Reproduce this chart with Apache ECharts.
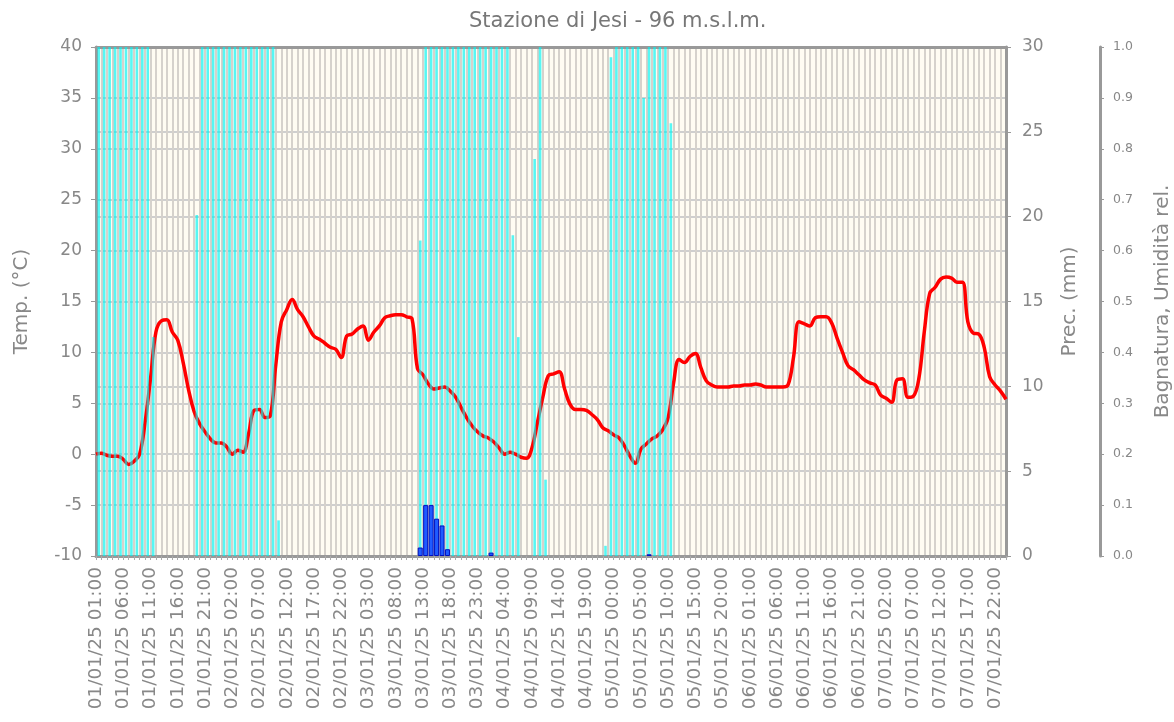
<!DOCTYPE html>
<html>
<head>
<meta charset="utf-8">
<title>Stazione di Jesi</title>
<script src="https://cdn.jsdelivr.net/npm/echarts@6/dist/echarts.min.js"></script>
<style>
  html, body { margin: 0; padding: 0; background: #fff; }
  #chart { width: 1174px; height: 722px; }
</style>
</head>
<body>
<div id="chart"></div>
<script>
// ore dal 01/01/25 01:00 al 08/01/25 00:00
const pad = n => (n < 10 ? '0' : '') + n
const hours = []
for (let h = 0; h < 168; h++) {
  const t = 1 + h
  hours.push(pad(1 + Math.floor(t / 24)) + '/01/25 ' + pad(t % 24) + ':00')
}

// temperatura oraria (°C)
const temp = [
  0.0, 0.1, -0.1, -0.2, -0.2, -0.5, -1.0, -0.7, 0.0, 3.1,
  7.4, 12.0, 13.1, 13.2, 12.0, 11.2, 9.0, 6.3, 4.2, 3.0,
  2.2, 1.5, 1.1, 1.1, 0.7, 0.0, 0.4, 0.2, 2.0, 4.3,
  4.4, 3.6, 3.8, 8.8, 13.0, 14.2, 15.2, 14.2, 13.5, 12.5,
  11.6, 11.3, 10.9, 10.5, 10.3, 9.5, 11.6, 11.8, 12.3, 12.6,
  11.2, 12.0, 12.6, 13.4, 13.6, 13.7, 13.7, 13.5, 13.3, 8.4,
  7.8, 6.9, 6.4, 6.5, 6.6, 6.2, 5.6, 4.6, 3.6, 2.8,
  2.2, 1.8, 1.6, 1.2, 0.6, 0.0, 0.2, 0.0, -0.3, -0.4,
  0.6, 3.1, 5.6, 7.7, 7.9, 8.1, 6.4, 4.9, 4.4, 4.4,
  4.3, 3.9, 3.4, 2.6, 2.3, 1.9, 1.6, 0.8, -0.2, -0.9,
  0.5, 1.0, 1.5, 1.8, 2.4, 3.6, 7.0, 9.3, 9.0, 9.6,
  9.9, 8.5, 7.2, 6.8, 6.6, 6.6, 6.6, 6.7, 6.7, 6.8,
  6.8, 6.9, 6.8, 6.6, 6.6, 6.6, 6.6, 6.8, 9.5, 13.0,
  12.8, 12.6, 13.4, 13.5, 13.5, 12.9, 11.4, 10.0, 8.7, 8.3,
  7.8, 7.3, 7.0, 6.8, 5.8, 5.5, 5.1, 7.3, 7.4, 5.6,
  5.7, 7.4, 12.0, 15.8, 16.4, 17.2, 17.4, 17.3, 16.9, 16.9,
  13.0, 11.9, 11.8, 10.5, 7.6, 6.8, 6.2, 5.4
]

// bagnatura fogliare per intervallo orario (0-1), 167 intervalli
const wet = [
  1, 1, 1, 1, 1, 1, 1, 1, 1, 1,
  0.43, 0, 0, 0, 0, 0, 0, 0, 0.67, 1,
  1, 1, 1, 1, 1, 1, 1, 1, 1, 1,
  1, 1, 1, 0.07, 0, 0, 0, 0, 0, 0,
  0, 0, 0, 0, 0, 0, 0, 0, 0, 0,
  0, 0, 0, 0, 0, 0, 0, 0, 0, 0.62,
  1, 1, 1, 1, 1, 1, 1, 1, 1, 1,
  1, 1, 1, 1, 1, 1, 0.63, 0.43, 0, 0,
  0.78, 1, 0.15, 0, 0, 0, 0, 0, 0, 0,
  0, 0, 0, 0.02, 0.98, 1, 1, 1, 1, 1,
  0.9, 1, 1, 1, 1, 0.85, 0, 0, 0, 0,
  0, 0, 0, 0, 0, 0, 0, 0, 0, 0,
  0, 0, 0, 0, 0, 0, 0, 0, 0, 0,
  0, 0, 0, 0, 0, 0, 0, 0, 0, 0,
  0, 0, 0, 0, 0, 0, 0, 0, 0, 0,
  0, 0, 0, 0, 0, 0, 0, 0, 0, 0,
  0, 0, 0, 0, 0, 0, 0
]

// precipitazione per intervallo orario (mm)
const rainSlots = [59, 60, 61, 62, 63, 64, 72, 101]
const rainMm = [0.5, 3.0, 3.0, 2.2, 1.8, 0.4, 0.2, 0.1]

const slots = wet.map((v, i) => String(i))
const rain = wet.map(() => null)
rainSlots.forEach((s, i) => { rain[s] = rainMm[i] })
const wetData = wet.map(v => (v > 0 ? v : null))

const gray = '#888'
const fontFamily = 'DejaVu Sans'

const chart = echarts.init(document.getElementById('chart'))

const option = {
  animation: false,
  textStyle: { fontFamily: fontFamily },
  title: {
    text: 'Stazione di Jesi - 96 m.s.l.m.',
    left: 464,
    top: 6,
    textStyle: { fontSize: 21, fontWeight: 'normal', color: '#777', fontFamily: fontFamily }
  },
  grid: {
    left: 96,
    right: 168,
    top: 47,
    bottom: 166,
    outerBoundsMode: 'none',
    show: true,
    backgroundColor: '#fffcf2',
    borderWidth: 0
  },
  xAxis: [
    {
      type: 'category',
      data: hours,
      boundaryGap: false,
      axisLine: { onZero: false, lineStyle: { color: '#999', width: 3 } },
      axisTick: { interval: 0, length: 4, lineStyle: { color: '#aaa' } },
      axisLabel: {
        interval: 4,
        rotate: 90,
        margin: 11,
        fontSize: 18.5,
        color: gray,
        fontFamily: fontFamily
      },
      splitLine: { show: true, interval: 0, lineStyle: { color: '#d6d2cc', width: 2 } }
    },
    {
      type: 'category',
      data: slots,
      position: 'top',
      boundaryGap: true,
      axisLine: { show: true, onZero: false, lineStyle: { color: '#999', width: 3 } },
      axisTick: { show: false },
      axisLabel: { show: false },
      splitLine: { show: false }
    },
    {
      type: 'category',
      data: slots,
      boundaryGap: true,
      show: false
    }
  ],
  yAxis: [
    {
      type: 'value',
      name: 'Temp. (°C)',
      nameLocation: 'middle',
      nameRotate: 90,
      nameGap: 64,
      nameTextStyle: { fontSize: 20, color: gray },
      min: -10,
      max: 40,
      interval: 5,
      axisLine: { show: true, onZero: false, lineStyle: { color: '#999', width: 3 } },
      axisTick: { show: true, length: 5, lineStyle: { color: '#999' } },
      axisLabel: { fontSize: 17, color: gray, margin: 14 },
      splitLine: { lineStyle: { color: '#cfcfcf', width: 2 } }
    },
    {
      type: 'value',
      name: 'Prec. (mm)',
      nameLocation: 'middle',
      nameRotate: 90,
      nameGap: 54,
      nameTextStyle: { fontSize: 20, color: gray },
      position: 'right',
      min: 0,
      max: 30,
      interval: 5,
      axisLine: { show: true, onZero: false, lineStyle: { color: '#999', width: 3 } },
      axisTick: { show: true, length: 5, lineStyle: { color: '#999' } },
      axisLabel: { fontSize: 17, color: gray, margin: 16 },
      splitLine: { show: true, lineStyle: { color: '#cfcfcf', width: 2 } }
    },
    {
      type: 'value',
      name: 'Bagnatura, Umidità rel.',
      nameLocation: 'middle',
      nameRotate: 90,
      nameGap: 53,
      nameTextStyle: { fontSize: 20, color: gray },
      position: 'right',
      offset: 94,
      min: 0,
      max: 1,
      interval: 0.1,
      axisLine: { show: true, onZero: false, lineStyle: { color: '#999', width: 3 } },
      axisTick: { show: true, length: 4, lineStyle: { color: '#999' } },
      axisLabel: { fontSize: 12.5, color: gray, margin: 13, formatter: v => v.toFixed(1) },
      splitLine: { show: false }
    }
  ],
  series: [
    {
      name: 'Temperatura',
      type: 'line',
      xAxisIndex: 0,
      yAxisIndex: 0,
      data: temp,
      smooth: 0.4,
      showSymbol: false,
      lineStyle: { color: '#ff0000', width: 3.5 },
      z: 2
    },
    {
      name: 'Bagnatura',
      type: 'bar',
      xAxisIndex: 1,
      yAxisIndex: 2,
      data: wetData,
      barWidth: 2.6,
      itemStyle: { color: 'rgba(0,245,245,0.66)' },
      z: 3
    },
    {
      name: 'Precipitazione',
      type: 'bar',
      xAxisIndex: 2,
      yAxisIndex: 1,
      data: rain,
      barWidth: 5,
      itemStyle: { color: '#1f5cff', borderColor: '#0010c0', borderWidth: 1 },
      z: 4
    }
  ]
}

chart.setOption(option)
</script>
</body>
</html>
